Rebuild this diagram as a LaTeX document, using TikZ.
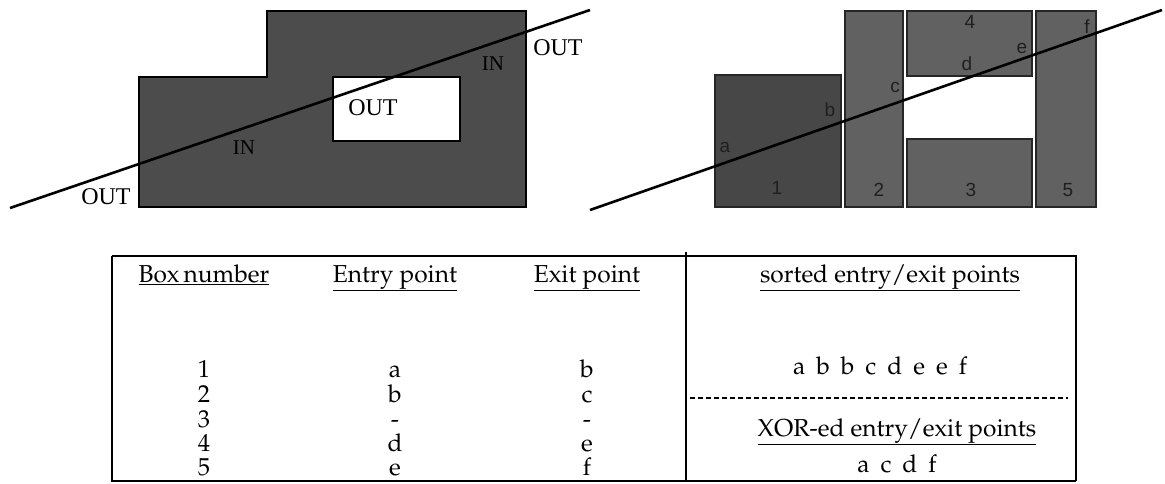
\documentclass[tikz,border=0pt]{standalone}
\usepackage[T1]{fontenc}
\usepackage{fontspec}
\setmainfont{Liberation Serif}
\newfontfamily\lsans{Liberation Sans}
\newcommand\palfont{\fontencoding{T1}\fontfamily{ppl}\selectfont}
\begin{document}
\begin{tikzpicture}[x=1pt,y=-1pt,
  solid/.style={fill=black!70, draw=black, line width=1.6pt},
  hole/.style={fill=white, draw=black, line width=1.6pt},
  blk/.style={fill=black!62, draw=black!85, line width=1.6pt},
  blkdark/.style={fill=black!72, draw=black!85, line width=1.6pt},
  cut/.style={line width=2.6pt, black},
  lbl/.style={font=\fontsize{24}{26}\selectfont, inner sep=0pt},
  inlbl/.style={font=\fontsize{21}{24}\selectfont, inner sep=0pt},
  pl/.style={font=\lsans\fontsize{19}{21}\selectfont, text=black!88, inner sep=0pt},
  tb/.style={font=\palfont\fontsize{24.5}{26}\selectfont, inner sep=0pt, anchor=base},
  tbl/.style={draw=black, line width=1.6pt}
]
\useasboundingbox (0,0) rectangle (1165,483);

% ---------- left figure ----------
\filldraw[solid] (139,77) -- (267,77) -- (267,11) -- (526,11) -- (526,207) -- (139,207) -- cycle;
\filldraw[hole] (333,77) rectangle (460,141);
\coordinate (l1) at (10,208);
\coordinate (l2) at (590,10);
\draw[cut] (l1) -- (l2);
\node[lbl] (outA) at (106,197) {OUT};
\node[inlbl] (inA) at (244,148) {IN};
\node[lbl] (outB) at (373,108) {OUT};
\node[inlbl] (inB) at (493,64) {IN};
\node[lbl] (outC) at (558,48) {OUT};

% ---------- right figure ----------
\filldraw[blkdark] (715,75) rectangle (841,207);
\filldraw[blk] (845,11) rectangle (903,207);
\filldraw[blk] (907,11) rectangle (1032,76);
\filldraw[blk] (907,139) rectangle (1032,207);
\filldraw[blk] (1036,11) rectangle (1096,207);
\coordinate (r1) at (590,210);
\coordinate (r2) at (1162,10);
\draw[cut] (r1) -- (r2);
\node[pl] (pa) at (725,147) {a};
\node[pl] (pb) at (830,110) {b};
\node[pl] (pc) at (895,87) {c};
\node[pl] (pd) at (967,64) {d};
\node[pl] (pe) at (1022,48) {e};
\node[pl] (pf) at (1087,27) {f};
\node[pl] (n1) at (777,188) {1};
\node[pl] (n2) at (879,190) {2};
\node[pl] (n3) at (971,190) {3};
\node[pl] (n4) at (970,22) {4};
\node[pl] (n5) at (1068,190) {5};

% ---------- table ----------
\draw[tbl] (112,256) -- (1076,256);
\draw[tbl] (112,256) -- (112,481) -- (1076,481);
\draw[draw=black, line width=2.6pt] (1076,255) -- (1076,481);
\draw[tbl] (686,252) -- (686,481);
\coordinate (dl) at (690,398);
\coordinate (dr) at (1068,398);
\draw[line width=1.5pt, dash pattern=on 5pt off 3pt] (dl) -- (dr);

\node[tb] (h1) at (204,282) {\underline{Box\,number}};
\node[tb] (h2) at (395,282) {\underline{Entry point}};
\node[tb] (h3) at (587,282) {\underline{Exit point}};
\node[tb] (h4) at (890,282) {\underline{sorted entry/exit points}};

\node[tb] (c11) at (204,377) {1};
\node[tb] (c12) at (204,402) {2};
\node[tb] (c13) at (204,427) {3};
\node[tb] (c14) at (204,451) {4};
\node[tb] (c15) at (204,475) {5};
\node[tb] (c21) at (395,377) {a};
\node[tb] (c22) at (395,402) {b};
\node[tb] (c23) at (395,427) {-};
\node[tb] (c24) at (395,451) {d};
\node[tb] (c25) at (395,475) {e};
\node[tb] (c31) at (587,377) {b};
\node[tb] (c32) at (587,402) {c};
\node[tb] (c33) at (587,427) {-};
\node[tb] (c34) at (587,451) {e};
\node[tb] (c35) at (587,475) {f};

\node[tb] (srt) at (880,374) {a\hspace{0.45em}b\hspace{0.45em}b\hspace{0.45em}c\hspace{0.45em}d\hspace{0.45em}e\hspace{0.45em}e\hspace{0.45em}f};
\node[tb] (h5) at (897,436) {\underline{XOR-ed entry/exit points}};
\node[tb] (xor) at (897,472) {a\hspace{0.45em}c\hspace{0.45em}d\hspace{0.45em}f};
\end{tikzpicture}
\end{document}
